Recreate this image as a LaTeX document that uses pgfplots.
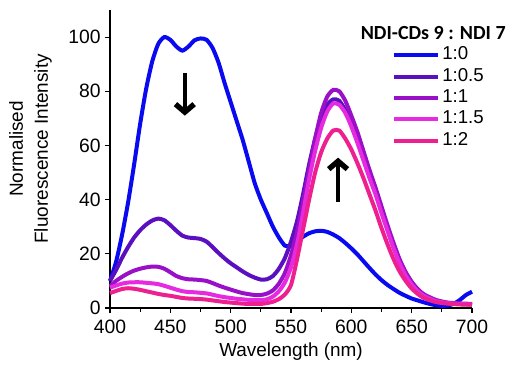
\documentclass[border=0pt]{standalone}
\usepackage{fontspec}
\setmainfont{Liberation Sans}
\newfontfamily\carlito{Carlito}
\usepackage{pgfplots}
\pgfplotsset{compat=1.18}
\usetikzlibrary{arrows.meta}
\definecolor{cA}{HTML}{0A0AF0}
\definecolor{cB}{HTML}{5A10C0}
\definecolor{cC}{HTML}{9A10C8}
\definecolor{cD}{HTML}{E62AE0}
\definecolor{cE}{HTML}{EE2090}
\pgfplotstableread{
x y
400 10
405 17
410 27
415 39
420 53
425 68
430 81
435 91
440 97.5
445 100
450 99
455 96.5
460 95
465 96.5
470 98.8
475 99.5
480 99
485 96
490 90.5
495 83
500 76
505 69
510 62
515 54
520 46
525 40
530 35
535 30
540 26
545 23
550 23
555 24.5
560 26.3
565 27.6
570 28.3
575 28.5
580 28.1
585 27.1
590 25.8
595 24
600 22
605 19.8
610 17.3
615 14.8
620 12.4
625 10.3
630 8.5
635 7
640 5.6
645 4.5
650 3.5
655 2.8
660 2.1
665 1.5
670 1.0
675 0.8
680 0.9
685 1.6
690 3
695 4.8
700 6
}\tA
\pgfplotstableread{
x y
400 10
405 14
410 18.5
415 22.5
420 26
425 28.7
430 30.8
435 32.3
440 33
445 32.4
450 30.6
455 28.5
460 26.7
465 26
470 25.8
475 25.5
480 24.5
485 22.5
490 20.3
495 18.3
500 16.5
505 15
510 13.5
515 12.2
520 11.2
525 10.5
530 10.6
535 11.8
540 14.5
545 18.5
550 24.5
555 32
560 42
565 53
570 62.5
575 70
580 75
585 77
590 76.5
595 73
600 68
605 62
610 55.5
615 49
620 43
625 36
630 29
635 22.5
640 17
645 12.5
650 9
655 6.5
660 4.8
670 2.7
680 1.8
690 1.5
700 1.3
}\tB
\pgfplotstableread{
x y
400 8
405 10
410 11.5
415 12.8
420 13.8
425 14.5
430 15
435 15.3
440 15.2
445 14.5
450 13.2
455 11.8
460 11
465 10.6
470 10.5
475 10.3
480 10
485 9.2
490 8.3
495 7.5
500 6.8
505 6.1
510 5.5
515 5.1
520 4.8
525 4.8
530 5.3
535 6.5
540 9
545 13
550 19.5
555 28
560 39
565 51
570 62.5
575 72
580 78
585 80.5
590 80
595 76.5
600 71
605 65
610 58
615 51
620 44.5
625 37.5
630 30.5
635 24
640 18
645 13.3
650 9.7
655 7
660 5.1
670 3
680 2
690 1.7
700 1.5
}\tC
\pgfplotstableread{
x y
400 7.5
405 8.3
410 9
415 9.4
420 9.5
425 9.5
430 9.3
435 9.1
440 8.8
445 8.2
450 7.5
455 6.8
460 6.2
465 5.9
470 5.8
475 5.6
480 5.4
485 4.9
490 4.4
495 4
500 3.7
505 3.4
510 3.2
515 3
520 2.9
525 2.9
530 3.2
535 4.2
540 6.2
545 9.5
550 15
555 23.5
560 35
565 47.5
570 58
575 66.5
580 72.5
585 75.5
590 75
595 72
600 67
605 61
610 54.5
615 48
620 42
625 35
630 28.5
635 22
640 16.5
645 12
650 8.7
655 6.2
660 4.5
670 2.6
680 1.8
690 1.5
700 1.3
}\tD
\pgfplotstableread{
x y
400 5.5
405 6.3
410 7
415 7.3
420 7.1
425 6.7
430 6.2
435 5.7
440 5.2
445 4.8
450 4.5
455 4.1
460 3.7
465 3.5
470 3.4
475 3.3
480 3.1
485 2.8
490 2.5
495 2.2
500 2
505 1.8
510 1.6
515 1.5
520 1.5
525 1.5
530 1.8
535 2.3
540 3.3
545 5
550 8.5
555 18
560 29
565 40
570 50
575 57.5
580 62.5
585 65.5
590 65.5
595 62.5
600 58.5
605 53.5
610 48
615 42
620 36
625 29.5
630 23.5
635 18
640 13.5
645 10
650 7.2
655 5.2
660 3.7
670 2.2
680 1.6
690 1.3
700 1.2
}\tE
\begin{document}
\begin{tikzpicture}
\useasboundingbox (-82.5pt,-43.5pt) rectangle (299.25pt,231pt);
\begin{axis}[
  at={(0pt,0pt)}, anchor=south west,
  width=271.5pt, height=223.5pt, scale only axis,
  xmin=400, xmax=700, ymin=0, ymax=110,
  axis x line*=bottom, axis y line*=left,
  xtick={400,450,...,700}, minor x tick num=1,
  ytick={0,20,...,100},
  tick align=outside,
  major tick length=3.5pt, minor tick length=3pt,
  tick style={black, line width=0.8pt},
  axis line style={black, line width=0.9pt},
  /pgf/number format/assume math mode=true,
  tick label style={font=\fontsize{14.5}{17}\selectfont},
  xticklabel style={yshift=-2pt},
  label style={font=\fontsize{14.2}{18.75}\selectfont},
  xlabel={Wavelength (nm)},
  xlabel style={at={(axis description cs:0.5,-0.148)}, anchor=center},
  ylabel={Normalised\\Fluorescence Intensity},
  ylabel style={at={(axis description cs:-0.2196,0.534)}, anchor=center, align=center},
  legend style={at={(axis description cs:0.779,0.885)}, anchor=north west,
    draw=none, fill=none, inner sep=0pt,
    font=\fontsize{14}{16}\selectfont,
    nodes={inner sep=1.5pt, text height=10pt, text depth=3pt}},
  legend cell align=left,
  legend image code/.code={\draw[#1] (0pt,0pt) -- (33pt,0pt);},
  clip=false,
]
\addplot[cA, line width=3pt, smooth, tension=0.4] table[x=x,y=y]{\tA};
\addlegendentry{1:0}
\addplot[cB, line width=3pt, smooth, tension=0.4] table[x=x,y=y]{\tB};
\addlegendentry{1:0.5}
\addplot[cC, line width=3pt, smooth, tension=0.4] table[x=x,y=y]{\tC};
\addlegendentry{1:1}
\addplot[cD, line width=3pt, smooth, tension=0.4] table[x=x,y=y]{\tD};
\addlegendentry{1:1.5}
\addplot[cE, line width=3pt, smooth, tension=0.4] table[x=x,y=y]{\tE};
\addlegendentry{1:2}
\draw[line width=3pt, -{Straight Barb[length=6pt,width=14pt,line width=4pt]}] (axis cs:462,86.6) -- (axis cs:462,71);
\draw[line width=3pt, -{Straight Barb[length=6pt,width=14pt,line width=4pt]}] (axis cs:589,39.2) -- (axis cs:589,55.5);
\node[font=\carlito\bfseries\fontsize{15}{18}\selectfont, anchor=center] at (axis description cs:0.893,0.923) {NDI-CDs 9 : NDI 7};
\end{axis}
\end{tikzpicture}
\end{document}
